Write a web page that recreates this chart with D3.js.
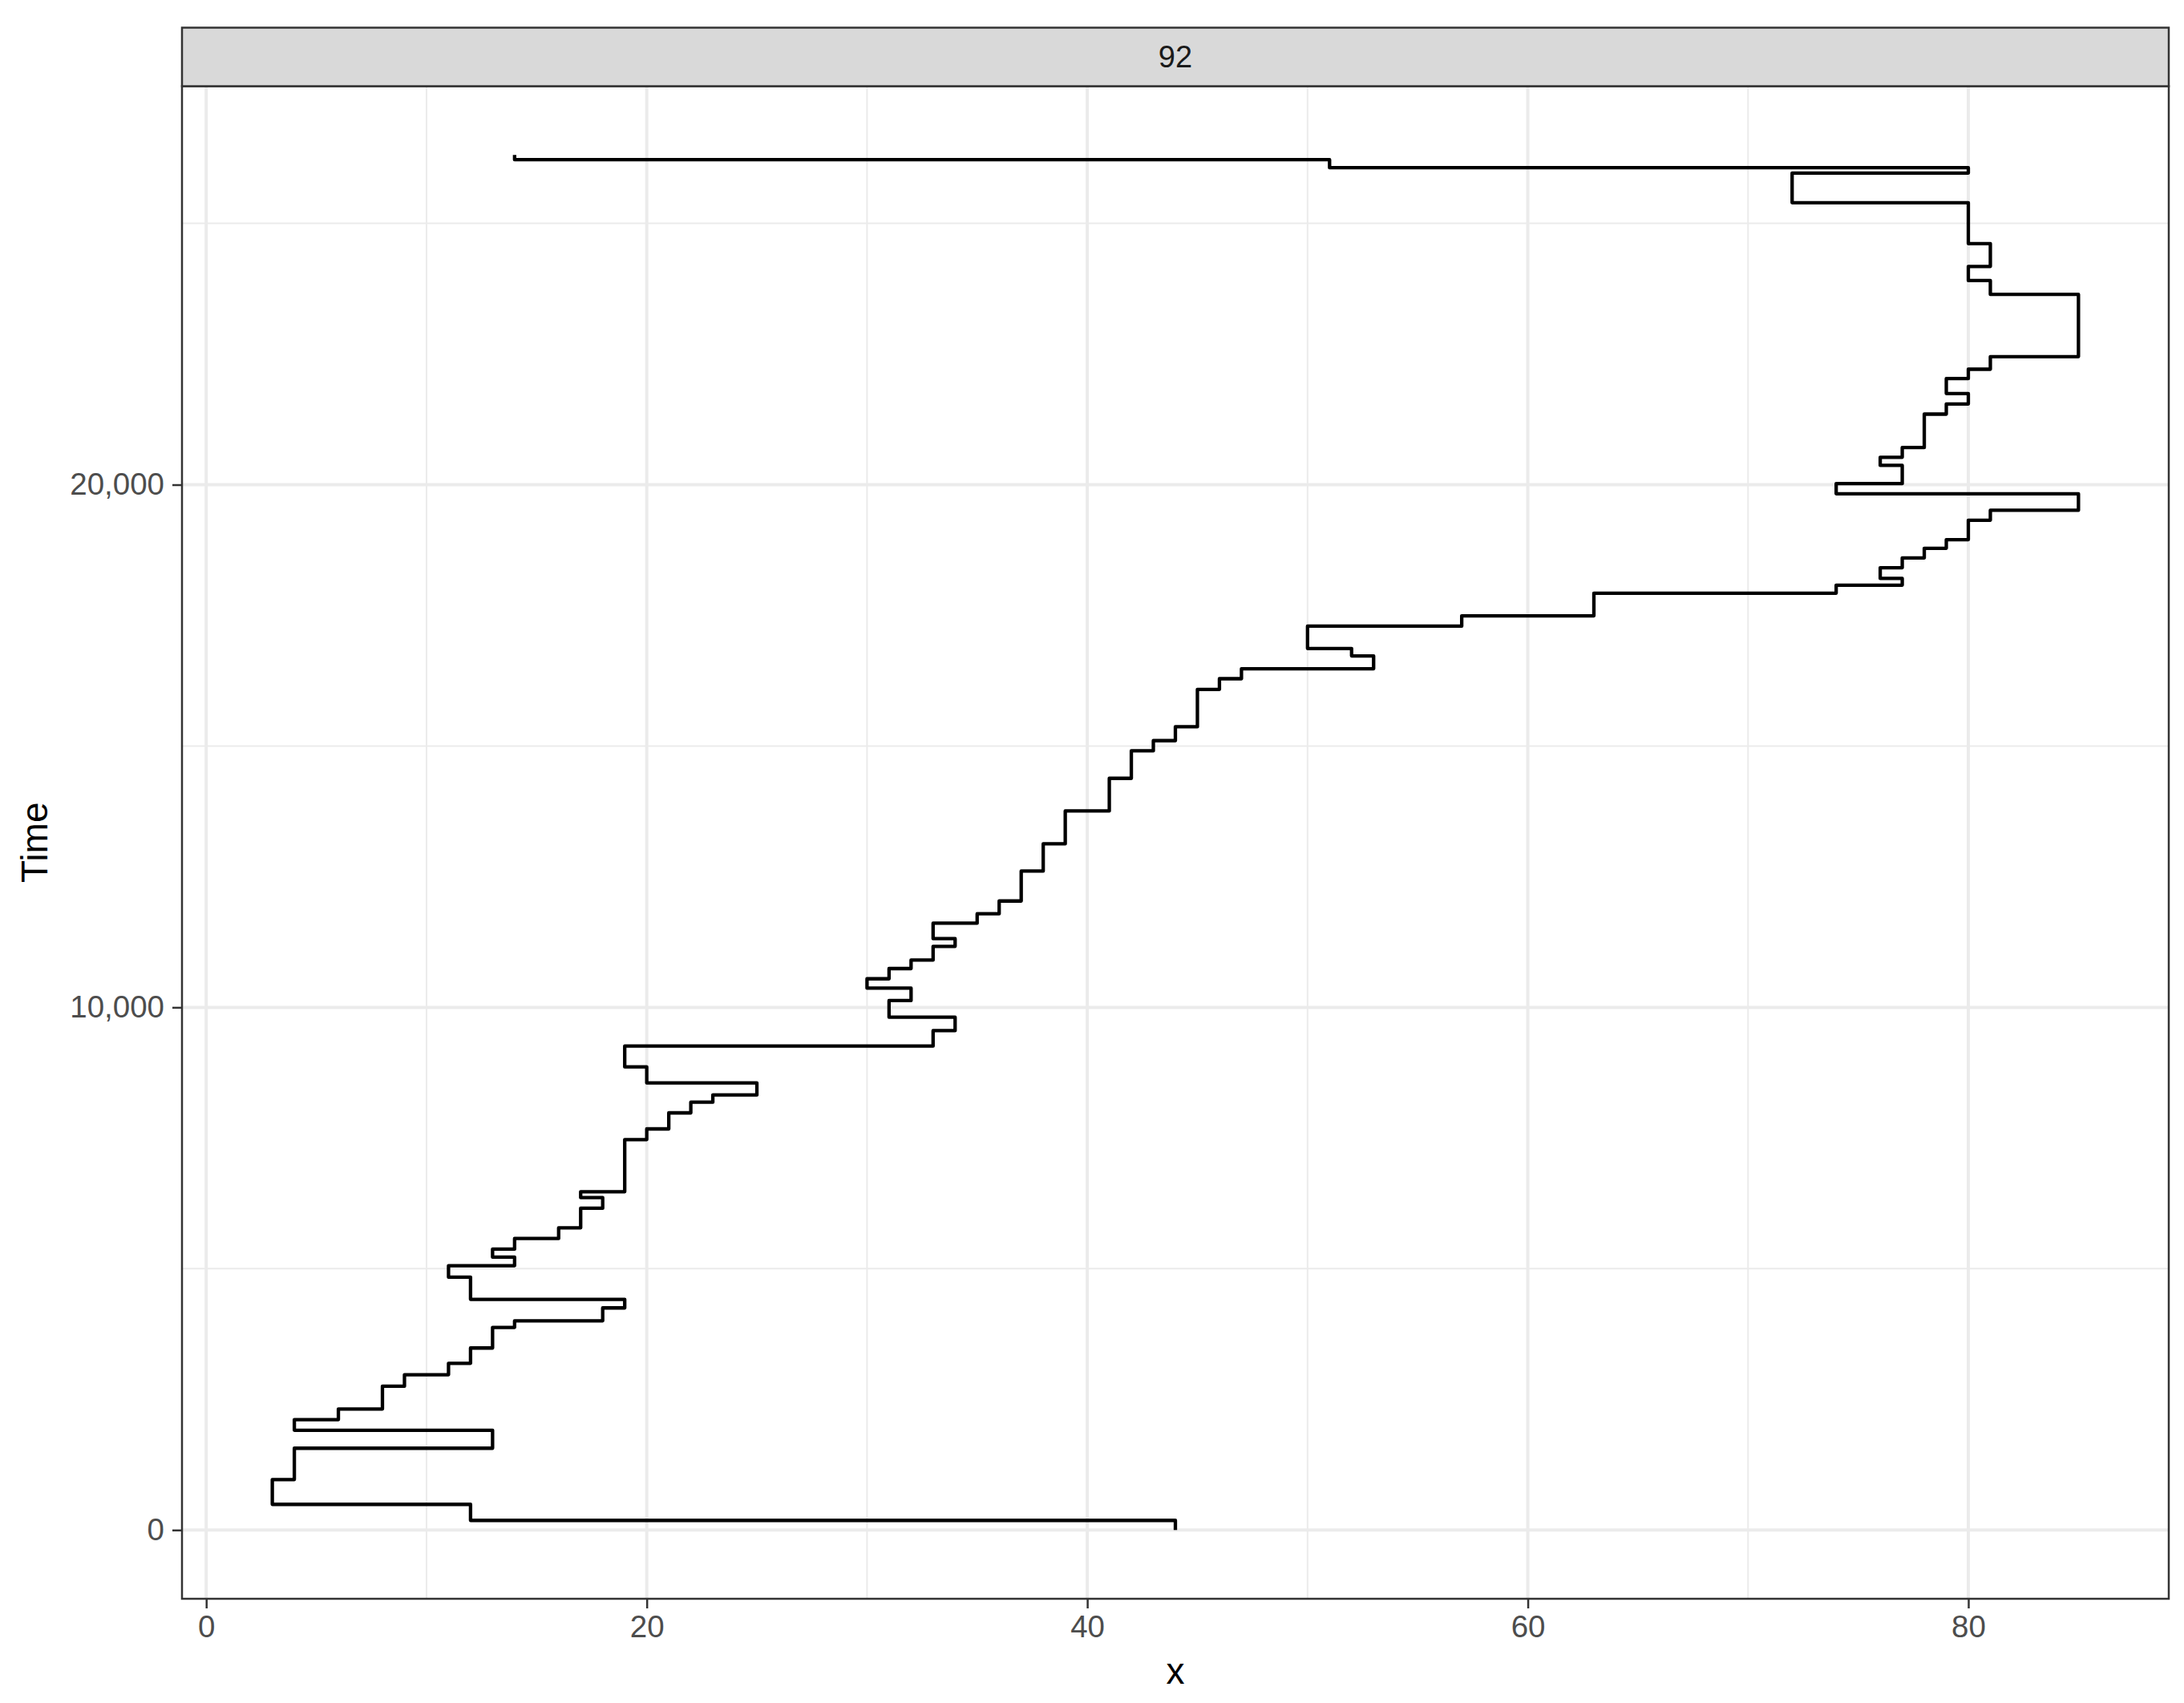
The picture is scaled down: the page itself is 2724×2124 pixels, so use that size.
<!DOCTYPE html>
<html>
<head>
<meta charset="utf-8">
<script src="https://cdn.jsdelivr.net/npm/d3@7"></script>
<style>
  html, body { margin: 0; padding: 0; background: #ffffff; }
  svg { display: block; }
</style>
</head>
<body>
<script>
// ---------------- DATA ----------------
const panelLabel = "92";
const xValues = [44, 12, 3, 4, 13, 4, 6, 8, 9, 11, 12, 13, 14, 18, 19, 12, 11, 14, 13, 14,
  16, 17, 18, 17, 19, 20, 21, 22, 23, 25, 20, 19, 33, 34, 31, 32, 30, 31, 32, 33,
  34, 33, 35, 36, 37, 38, 39, 41, 42, 43, 44, 45, 46, 47, 53, 52, 50, 57, 63, 74,
  77, 76, 77, 78, 79, 80, 81, 85, 74, 77, 76, 77, 78, 79, 80, 79, 80, 81, 85, 81,
  80, 81, 80, 72, 80, 51, 14, 14];
const timeValues = [0, 184, 491, 966, 1565, 1908, 2112, 2316, 2751, 2971, 3190, 3482, 3876, 4003, 4249, 4413, 4837, 5057, 5221, 5374,
  5578, 5782, 6156, 6360, 6472, 7469, 7674, 7981, 8185, 8323, 8553, 8860, 9259, 9555, 9812, 10129, 10368, 10547, 10742, 10905,
  11166, 11315, 11610, 11790, 12035, 12607, 13129, 13758, 14382, 14908, 15103, 15368, 16084, 16288, 16478, 16724, 16866, 17293, 17491, 17925,
  18078, 18206, 18411, 18600, 18784, 18948, 19321, 19510, 19827, 20021, 20370, 20525, 20711, 21350, 21544, 21744, 22030, 22209, 22449, 23641,
  23906, 24176, 24612, 25395, 25962, 26064, 26218, 26309];
const xTicks = [0, 20, 40, 60, 80];
const xMinorTicks = [10, 30, 50, 70];
const yTicks = [0, 10000, 20000];
const yTickLabels = ["0", "10,000", "20,000"];
const yMinorTicks = [5000, 15000, 25000];
const xTitle = "x";
const yTitle = "Time";

// ---------------- LAYOUT ----------------
const W = 2724, H = 2124;
const panel = { left: 227, right: 2705, top: 107.5, bottom: 1994 };
const strip = { top: 34.5, bottom: 107.5 };
const font = "'Liberation Sans', Arial, Helvetica, sans-serif";

const data = xValues.map((x, i) => ({ x: x, t: timeValues[i] }));

function expand(ext) {
  const r = ext[1] - ext[0];
  return [ext[0] - 0.05 * r, ext[1] + 0.05 * r];
}

const xScale = d3.scaleLinear()
  .domain(expand(d3.extent(xValues)))
  .range([panel.left, panel.right]);
const yScale = d3.scaleLinear()
  .domain(expand(d3.extent(timeValues)))
  .range([panel.bottom, panel.top]);

const svg = d3.select("body").append("svg")
  .attr("width", W).attr("height", H)
  .attr("viewBox", `0 0 ${W} ${H}`);

svg.append("rect").attr("width", W).attr("height", H).attr("fill", "#ffffff");

svg.append("rect")
  .attr("x", panel.left).attr("y", panel.top)
  .attr("width", panel.right - panel.left).attr("height", panel.bottom - panel.top)
  .attr("fill", "#ffffff");

const grid = svg.append("g");
grid.selectAll("line.xminor").data(xMinorTicks).join("line")
  .attr("x1", d => xScale(d)).attr("x2", d => xScale(d))
  .attr("y1", panel.top).attr("y2", panel.bottom)
  .attr("stroke", "#EBEBEB").attr("stroke-width", 2);
grid.selectAll("line.yminor").data(yMinorTicks).join("line")
  .attr("y1", d => yScale(d)).attr("y2", d => yScale(d))
  .attr("x1", panel.left).attr("x2", panel.right)
  .attr("stroke", "#EBEBEB").attr("stroke-width", 2);
grid.selectAll("line.xmajor").data(xTicks).join("line")
  .attr("x1", d => xScale(d)).attr("x2", d => xScale(d))
  .attr("y1", panel.top).attr("y2", panel.bottom)
  .attr("stroke", "#EBEBEB").attr("stroke-width", 4);
grid.selectAll("line.ymajor").data(yTicks).join("line")
  .attr("y1", d => yScale(d)).attr("y2", d => yScale(d))
  .attr("x1", panel.left).attr("x2", panel.right)
  .attr("stroke", "#EBEBEB").attr("stroke-width", 4);

// step path (vertical then horizontal)
const line = d3.line()
  .x(d => xScale(d.x))
  .y(d => yScale(d.t))
  .curve(d3.curveStepBefore);

svg.append("path")
  .datum(data)
  .attr("d", line)
  .attr("fill", "none")
  .attr("stroke", "#000000")
  .attr("stroke-width", 4.3)
  .attr("stroke-linejoin", "round")
  .attr("stroke-linecap", "butt");

svg.append("rect")
  .attr("x", panel.left).attr("y", panel.top)
  .attr("width", panel.right - panel.left).attr("height", panel.bottom - panel.top)
  .attr("fill", "none").attr("stroke", "#333333").attr("stroke-width", 2.5);

svg.append("rect")
  .attr("x", panel.left).attr("y", strip.top)
  .attr("width", panel.right - panel.left).attr("height", strip.bottom - strip.top)
  .attr("fill", "#D9D9D9").attr("stroke", "#333333").attr("stroke-width", 2.5);
svg.append("text")
  .attr("x", (panel.left + panel.right) / 2)
  .attr("y", (strip.top + strip.bottom) / 2)
  .attr("text-anchor", "middle").attr("dominant-baseline", "central")
  .attr("font-family", font).attr("font-size", 38).attr("fill", "#1A1A1A")
  .text(panelLabel);

const xAxis = d3.axisBottom(xScale).tickValues(xTicks).tickSize(12).tickPadding(9)
  .tickFormat(d3.format("d"));
const gx = svg.append("g").attr("transform", `translate(0,${panel.bottom})`).call(xAxis);
gx.select(".domain").remove();
gx.selectAll(".tick line").attr("stroke", "#333333").attr("stroke-width", 2.5);
gx.selectAll(".tick text").attr("font-family", font).attr("font-size", 38.5).attr("fill", "#4D4D4D");

const yAxis = d3.axisLeft(yScale).tickValues(yTicks).tickSize(12).tickPadding(10)
  .tickFormat((d, i) => yTickLabels[i]);
const gy = svg.append("g").attr("transform", `translate(${panel.left},0)`).call(yAxis);
gy.select(".domain").remove();
gy.selectAll(".tick line").attr("stroke", "#333333").attr("stroke-width", 2.5);
gy.selectAll(".tick text").attr("font-family", font).attr("font-size", 38.5).attr("fill", "#4D4D4D");

svg.append("text")
  .attr("x", (panel.left + panel.right) / 2).attr("y", 2100)
  .attr("text-anchor", "middle")
  .attr("font-family", font).attr("font-size", 46).attr("fill", "#000000")
  .text(xTitle);
svg.append("text")
  .attr("transform", `translate(59,${(panel.top + panel.bottom) / 2}) rotate(-90)`)
  .attr("text-anchor", "middle")
  .attr("font-family", font).attr("font-size", 46).attr("fill", "#000000")
  .text(yTitle);
</script>
</body>
</html>
